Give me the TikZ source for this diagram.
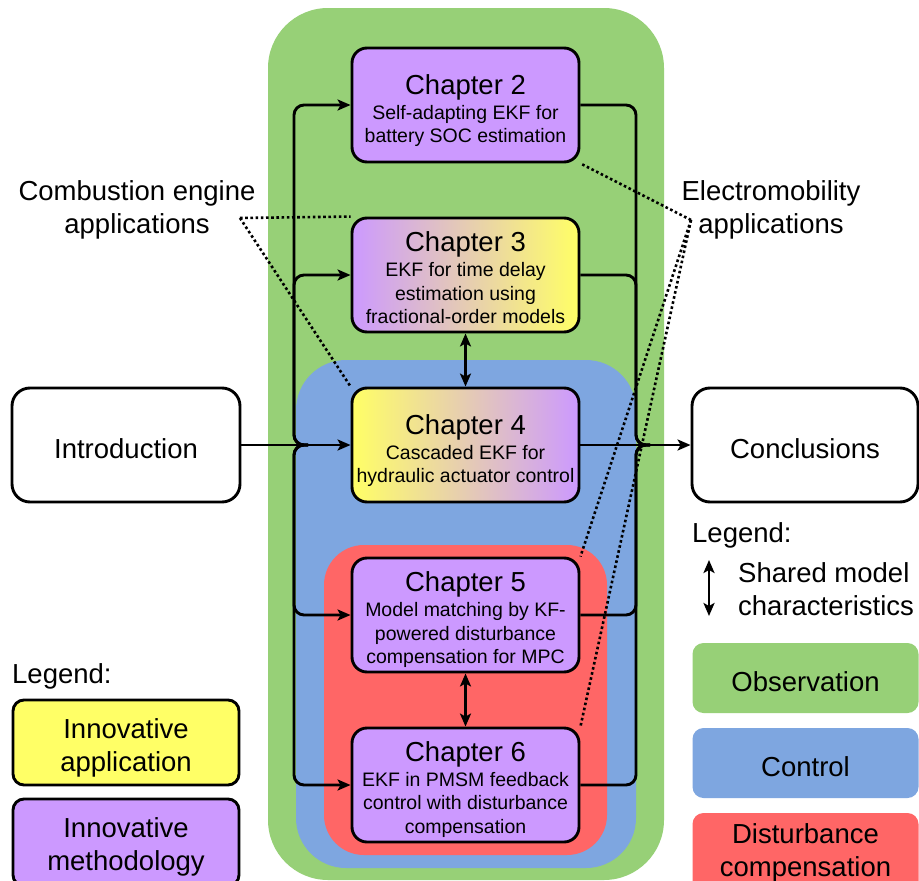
\documentclass[tikz,border=0pt]{standalone}
\usepackage{fontspec}
\setmainfont{Liberation Sans}
\usetikzlibrary{arrows.meta,calc}
\definecolor{cgreen}{HTML}{97D077}
\definecolor{cblue}{HTML}{7EA6E0}
\definecolor{cred}{HTML}{FF6666}
\definecolor{cpurple}{HTML}{CC99FF}
\definecolor{cyellow}{HTML}{FFFF66}
\newcommand\fbig{\fontsize{27.5}{33}\selectfont}
\newcommand\fsub{\fontsize{19.5}{23.5}\selectfont}
\begin{document}
\begin{tikzpicture}[x=1pt,y=-1pt,
  conn/.style={line width=2.9pt},
  arr/.style={conn,-{Stealth[length=13pt,width=11pt,inset=3pt]}},
  darr/.style={conn,{Stealth[length=13pt,width=11pt,inset=3pt]}-{Stealth[length=13pt,width=11pt,inset=3pt]}},
  dots/.style={line width=2.6pt,dash pattern=on 2.6pt off 2.6pt},
  chapbox/.style={draw,line width=2.9pt,rounded corners=15pt,minimum width=227pt,minimum height=114pt,inner sep=0pt},
  chaptext/.style={anchor=north,align=center,font=\fsub,inner sep=0pt},
  endbox/.style={draw,line width=2.9pt,rounded corners=18pt,minimum height=114pt,inner sep=0pt,font=\fbig,text height=27pt,text depth=0pt},
  legbox/.style={rounded corners=11pt,minimum width=226pt,inner sep=0pt},
  lbl/.style={font=\fbig,align=center,inner sep=0pt}
]
\clip (0,0) rectangle (919,881);
\fill[white] (0,0) rectangle (919,881);
% regions
\fill[cgreen, rounded corners=60pt] (268,8) rectangle (664,880);
\fill[cblue, rounded corners=50pt] (296,360) rectangle (636,868);
\fill[cred, rounded corners=40pt] (324,545) rectangle (607,855);

% chapter boxes
\node[chapbox, fill=cpurple] (c2) at (465.5,105) {};
\node[chapbox, left color=cpurple, right color=cyellow] (c3) at (465.5,275) {};
\node[chapbox, left color=cyellow, right color=cpurple] (c4) at (465.5,445) {};
\node[chapbox, fill=cpurple] (c5) at (465.5,615) {};
\node[chapbox, fill=cpurple] (c6) at (465.5,785) {};

\node[chaptext] (t2) at (465.5,74.2) {{\fbig Chapter 2}\\[1.5pt]Self-adapting EKF for\\battery SOC estimation};
\node[chaptext] (t3) at (465.5,231.7) {{\fbig Chapter 3}\\[1.5pt]EKF for time delay\\estimation using\\fractional-order models};
\node[chaptext] (t4) at (465.5,414.2) {{\fbig Chapter 4}\\[1.5pt]Cascaded EKF for\\hydraulic actuator control};
\node[chaptext] (t5) at (465.5,571.7) {{\fbig Chapter 5}\\[1.5pt]Model matching by KF-\\powered disturbance\\compensation for MPC};
\node[chaptext] (t6) at (465.5,741.2) {{\fbig Chapter 6}\\[1.5pt]EKF in PMSM feedback\\control with disturbance\\compensation};

% intro / conclusions
\node[endbox, fill=white, minimum width=228pt] (intro) at (126,445) {Introduction};
\node[endbox, fill=white, minimum width=226pt] (concl) at (805,445) {Conclusions};

% connectors
\coordinate (jl) at (294,445);
\coordinate (jr) at (636,445);
\draw[arr] (intro.east) -- (c4.west);
\draw[arr] (c4.east) -- (concl.west);
\foreach \c in {c2,c3,c5,c6} {
  \draw[arr, rounded corners=10pt] ($(jl)+(14,0)$) -- (jl) |- (\c.west);
  \draw[conn, rounded corners=10pt] (\c.east) -| (jr) -- ($(jr)+(14,0)$);
}
\draw[darr] (c3.south) -- (c4.north);
\draw[darr] (c5.south) -- (c6.north);

% application labels and dotted links
\node[lbl, anchor=north] (comb) at (137,180) {Combustion engine\\applications};
\node[lbl, anchor=north] (elec) at (771,180.3) {Electromobility\\applications};
\coordinate (cp) at (240,218);
\coordinate (ep) at (691,220);
\draw[dots] (cp) -- (c3.north west);
\draw[dots] (cp) -- (c4.north west);
\draw[dots] (ep) -- (c2.south east);
\draw[dots] (ep) -- (c5.north east);
\draw[dots] (ep) -- (c6.north east);

% left legend
\node[lbl, anchor=base west] (legl) at (12,683) {Legend:};
\node[legbox, draw, line width=2.9pt, fill=cyellow, minimum height=85pt] (ly) at (126,742.5) {};
\node[lbl, anchor=north] (lyt) at (126,718.3) {Innovative\\application};
\node[legbox, draw, line width=2.9pt, fill=cpurple, minimum height=87pt] (lp) at (126,842.5) {};
\node[lbl, anchor=north] (lpt) at (126,817.3) {Innovative\\methodology};

% right legend
\node[lbl, anchor=base west] (legr) at (692,542) {Legend:};
\coordinate (la1) at (709,560);
\coordinate (la2) at (709,616);
\draw[darr] (la1) -- (la2);
\node[lbl, anchor=north west, align=left] (shared) at (738,562) {Shared model\\characteristics};
\node[legbox, fill=cgreen, minimum height=70pt, font=\fbig, text height=27pt, text depth=0pt] (lobs) at (805.5,678) {Observation};
\node[legbox, fill=cblue, minimum height=70pt, font=\fbig, text height=27pt, text depth=0pt] (lctl) at (805.5,763) {Control};
\node[legbox, fill=cred, minimum height=86pt] (ldist) at (805.5,856) {};
\node[lbl, anchor=north] (ldistt) at (805.5,823.3) {Disturbance\\compensation};
\end{tikzpicture}
\end{document}
